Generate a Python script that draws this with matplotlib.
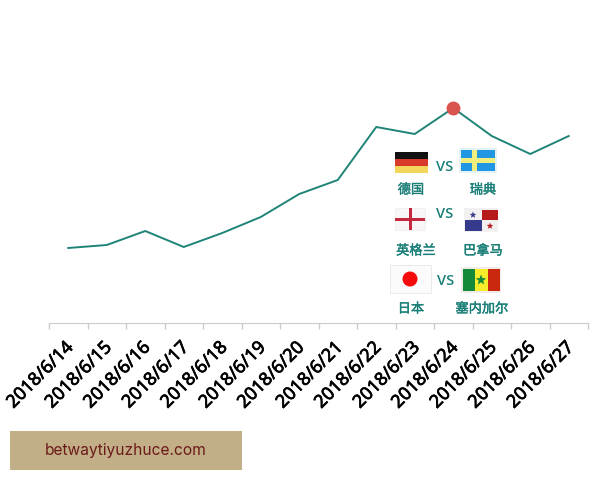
import numpy as np
import matplotlib
matplotlib.use("Agg")
import matplotlib.pyplot as plt
import matplotlib.patheffects as pe
from matplotlib.patches import Rectangle, Circle, Polygon

plt.rcParams['font.family'] = ['Noto Sans CJK SC', 'DejaVu Sans']

dates = ['2018/6/14', '2018/6/15', '2018/6/16', '2018/6/17', '2018/6/18', '2018/6/19', '2018/6/20',
         '2018/6/21', '2018/6/22', '2018/6/23', '2018/6/24', '2018/6/25', '2018/6/26', '2018/6/27']
values = [75, 78, 92, 76, 90, 106, 129, 143, 196, 189, 215, 187, 169, 187]
peak = 10

teal = '#1a7f78'
W, H = 600, 480

fig = plt.figure(figsize=(6, 4.8), dpi=100)

# main chart, band scale with ticks between the categories
ax = fig.add_axes([49 / W, 1 - 323 / H, 539 / W, 323 / H])
x = np.arange(len(dates))
ax.plot(x, values, color='#1f8478', lw=1.4, zorder=2)
ax.plot(x[peak], values[peak], 'o', color='#d9534f', ms=9, zorder=3)
ax.set_xlim(-0.5, len(dates) - 0.5)
ax.set_ylim(0, 323)
ax.set_yticks([])
for s in ['top', 'left', 'right']:
    ax.spines[s].set_visible(False)
ax.spines['bottom'].set_color('#cccccc')
ax.set_xticks(np.arange(len(dates) + 1) - 0.5)
ax.set_xticklabels([])
ax.tick_params(axis='x', length=4, width=1, color='#cccccc')
heavy = [pe.withStroke(linewidth=0.5, foreground='black')]
for i, d in enumerate(dates):
    ax.annotate(d, (i, 0), xycoords=('data', 'axes fraction'), xytext=(-3, -11), textcoords='offset points',
                rotation=45, rotation_mode='anchor', ha='right', va='top', fontsize=13,
                family='Noto Sans', color='black', path_effects=heavy)

# overlay in pixel coordinates for the flags and the banner
ov = fig.add_axes([0, 0, 1, 1], facecolor='none')
ov.set_xlim(0, W)
ov.set_ylim(H, 0)
ov.axis('off')


def box(x0, y0, x1, y1, c, **kw):
    ov.add_patch(Rectangle((x0, y0), x1 - x0, y1 - y0, fc=c, ec=kw.get('ec', 'none'), lw=kw.get('lw', 0)))


def star(cx, cy, r, c):
    a = np.arange(10) * np.pi / 5 - np.pi / 2
    rad = np.where(np.arange(10) % 2 == 0, r, r * 0.42)
    ov.add_patch(Polygon(np.c_[cx + rad * np.cos(a), cy + rad * np.sin(a)], fc=c, ec='none'))


# Germany
box(395, 152, 428, 159, '#111111')
box(395, 159, 428, 166, '#d8392b')
box(395, 166, 428, 173, '#f3d55b')
# Sweden
box(459, 148, 497, 173, '#e4f1f5')
box(461, 150, 495, 171, '#2196e3')
box(461, 158, 495, 163, '#f2ee7e')
box(472, 150, 477, 171, '#f2ee7e')
# England
box(395, 208, 425, 230, '#f8f6f6', ec='#ececec', lw=0.5)
box(395, 217.5, 425, 220.5, '#c4283c')
box(408.5, 208, 411.5, 230, '#c4283c')
# Panama
box(464, 208, 498, 232, '#f2f0f0')
box(482, 210, 498, 220, '#b71c1c')
box(465, 220, 482, 231, '#353a8c')
star(473, 215, 3.5, '#353a8c')
star(490, 226, 3.5, '#b71c1c')
# Japan
box(390, 265, 431, 293, '#fcfbfb', ec='#e8e8e8', lw=0.6)
ov.add_patch(Circle((410, 279), 7.5, fc='#f40c0c', ec='none'))
# Senegal
box(461, 267, 501, 293, '#efecea')
box(463, 269, 475, 291, '#14893a')
box(475, 269, 488, 291, '#f7ec2a')
box(488, 269, 500, 291, '#c9280f')
star(481, 280, 5.5, '#14893a')

for vx, vy in [(445, 167), (445, 214), (446, 281)]:
    ov.text(vx, vy, 'VS', color=teal, fontsize=10.5, family='Open Sans', weight='semibold', ha='center', va='center')

teams = ['德国', '瑞典', '英格兰', '巴拿马', '日本', '塞内加尔']
team_x = [411, 483, 416, 483, 411, 482]
team_y = [190, 190, 251, 251, 309, 309]
for t, tx, ty in zip(teams, team_x, team_y):
    ov.text(tx, ty, t, color=teal, fontsize=9.5, weight='medium', ha='center', va='center',
            path_effects=[pe.withStroke(linewidth=0.3, foreground=teal)])

# banner
box(10, 431, 242, 470, '#c2af87')
ov.text(126, 450.5, 'betwaytiyuzhuce.com', color='#6b1a1a', fontsize=11.2, family='Inter', ha='center', va='center')

fig.savefig('out.png', dpi=100)
